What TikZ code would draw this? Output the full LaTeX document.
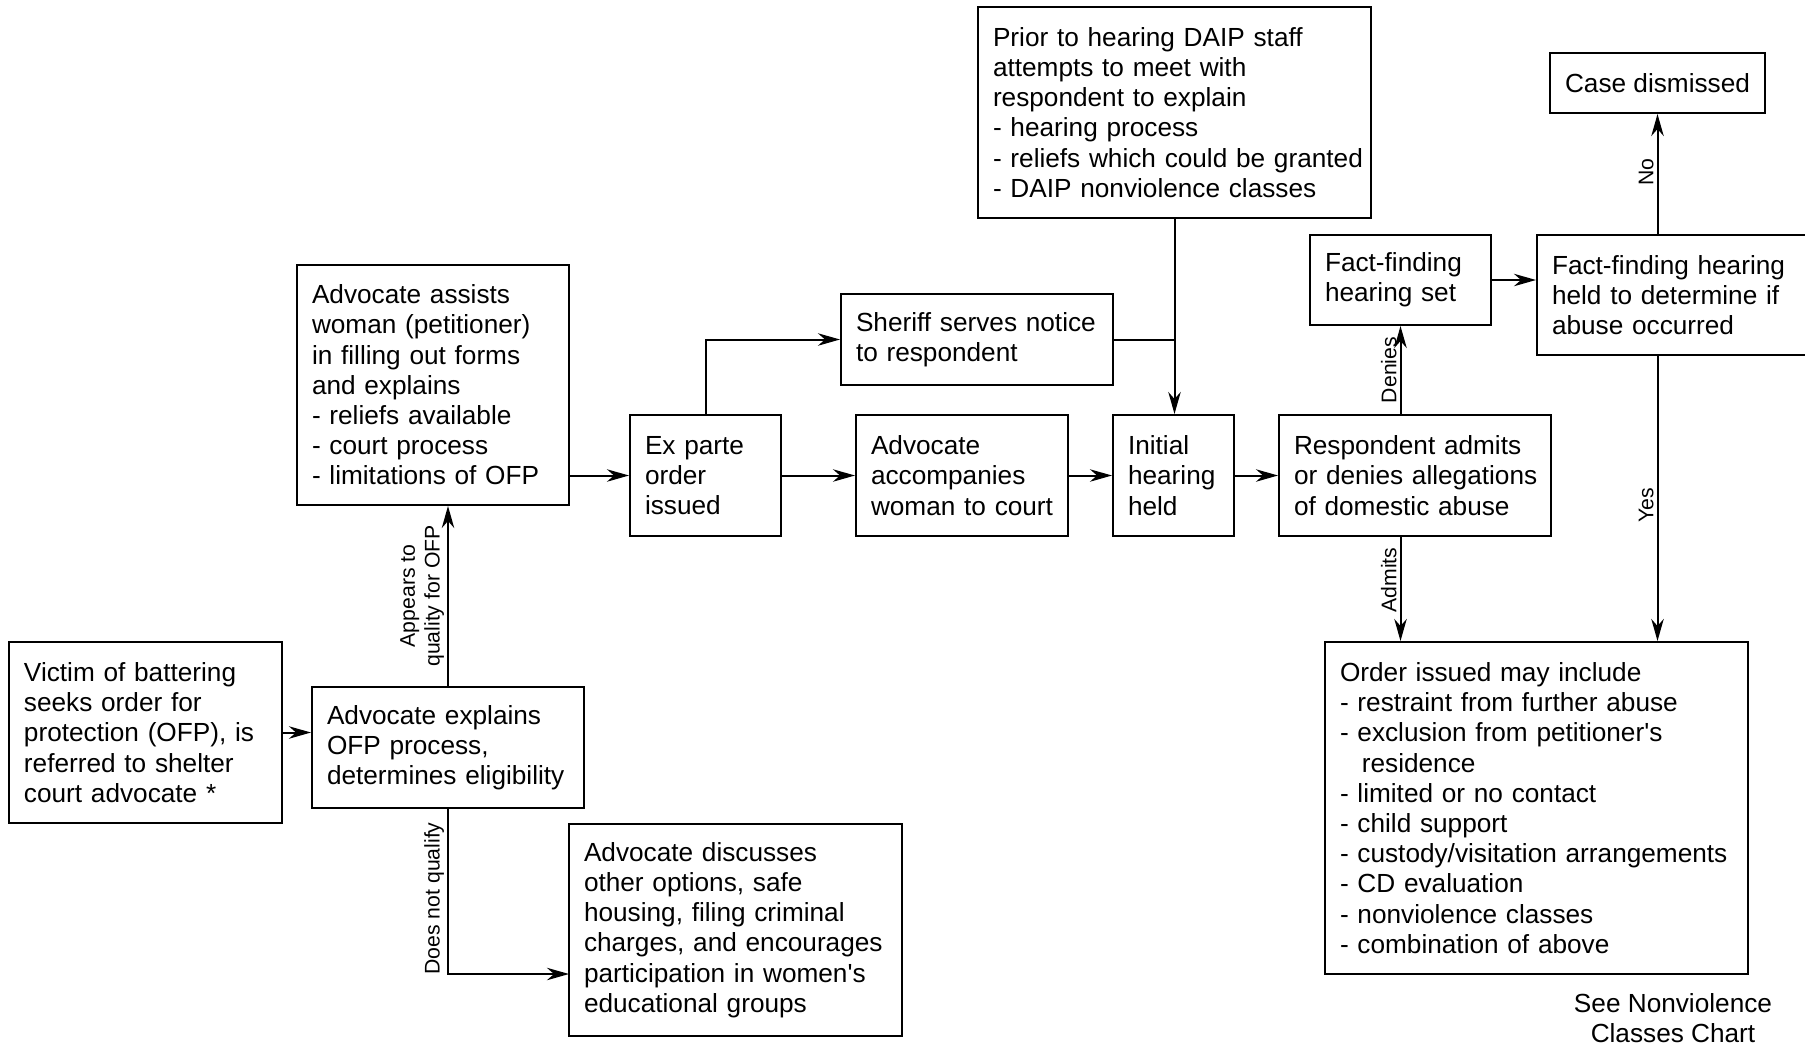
\documentclass[tikz,border=0pt]{standalone}
\usepackage{fontspec}
\setmainfont{Liberation Sans}
\usetikzlibrary{arrows.meta}
\begin{document}
\hyphenpenalty=10000
\exhyphenpenalty=10000
\begin{tikzpicture}[x=0.5pt,y=-0.5pt,
  box/.style={draw, line width=1pt, rectangle, inner xsep=7.5pt, inner ysep=0pt, align=left, font=\fontsize{13.1}{15.1}\selectfont},
  lbl/.style={font=\fontsize{10.6}{12.4}\selectfont, rotate=90, anchor=south, inner sep=1.5pt, align=center},
  arr/.style={line width=1pt, -{Stealth[length=11pt,width=6.2pt,inset=3.5pt]}},
  ln/.style={line width=1pt}]
\useasboundingbox (0,0) rectangle (1805,1045);

\node[box, minimum height=90.5pt, text width=121.5pt] (victim) at (145.5,732.5)
  {Victim of battering\\seeks order for\\protection~(OFP),~is\\referred to shelter\\court advocate *};
\node[box, minimum height=60.5pt, text width=121pt] (explains) at (448,747.5)
  {Advocate~explains\\OFP process,\\determines~eligibility};
\node[box, minimum height=120pt, text width=121pt] (assists) at (433,385)
  {Advocate assists\\woman~(petitioner)\\in filling out forms\\and explains\\- reliefs available\\- court process\\- limitations~of~OFP};
\node[box, minimum height=106pt, text width=151.5pt] (discusses) at (735.5,930)
  {Advocate discusses\\other options, safe\\housing,~filing~criminal\\charges,~and~encourages\\participation~in~women\textquotesingle s\\educational groups};
\node[box, minimum height=60.5pt, text width=60.5pt] (exparte) at (705.5,475.5)
  {Ex~parte\\order\\issued};
\node[box, minimum height=45.5pt, text width=121pt] (sheriff) at (977,339.5)
  {Sheriff~serves~notice\\to respondent};
\node[box, minimum height=60.5pt, text width=91pt] (accomp) at (962,475.5)
  {Advocate\\accompanies\\woman~to~court};
\node[box, minimum height=105.5pt, text width=181.5pt] (prior) at (1174.5,112.5)
  {Prior~to~hearing~DAIP~staff\\attempts to meet with\\respondent~to~explain\\- hearing process\\-~reliefs~which~could~be~granted\\-~DAIP~nonviolence~classes};
\node[box, minimum height=60.5pt, text width=45.5pt] (initial) at (1173.5,475.5)
  {Initial\\hearing\\held};
\node[box, minimum height=60.5pt, text width=121pt] (respond) at (1415,475.5)
  {Respondent~admits\\or~denies~allegations\\of~domestic~abuse};
\node[box, minimum height=45pt, text width=75.5pt] (ffset) at (1400.5,280)
  {Fact-finding\\hearing~set};
\node[box, minimum height=60pt, text width=134pt] (ffheld) at (1686,295)
  {Fact-finding~hearing\\held~to~determine~if\\abuse~occurred};
\node[box, minimum height=30pt, minimum width=105.5pt, align=center] (dismissed) at (1657.5,83)
  {Case~dismissed};
\node[box, minimum height=166pt, text width=196.5pt] (order) at (1536.5,808)
  {Order~issued~may~include\\-~restraint~from~further~abuse\\-~exclusion~from~petitioner\textquotesingle s\\\hspace*{0.834em}residence\\-~limited~or~no~contact\\-~child~support\\-~custody/visitation~arrangements\\-~CD~evaluation\\-~nonviolence~classes\\-~combination~of~above};
\node[font=\fontsize{13.1}{15.1}\selectfont, align=center, inner sep=0pt] (see) at (1673,1018)
  {See Nonviolence\\Classes Chart};

\coordinate (dq) at (569,974);

\draw[arr] (victim.east) -- (victim.east -| explains.west);
\draw[arr] (explains.north) -- (explains.north |- assists.south)
  node[lbl, pos=0.5] (lappears) {Appears to\\quality for OFP};
\draw[arr] (explains.south) |- (dq)
  node[lbl, pos=0.271] (ldoes) {Does not qualify};
\draw[arr] (assists.east |- exparte.west) -- (exparte.west);
\draw[arr] (exparte.north) |- (sheriff.west);
\draw[arr] (exparte.east) -- (accomp.west);
\draw[arr] (accomp.east) -- (initial.west);
\draw[ln] (sheriff.east) -- (sheriff.east -| prior.south);
\draw[arr] (prior.south) -- (prior.south |- initial.north);
\draw[arr] (initial.east) -- (respond.west);
\draw[arr] (ffset.south |- respond.north) -- (ffset.south)
  node[lbl, pos=0.5] (ldenies) {Denies};
\draw[arr] (ffset.south |- respond.south) -- (ffset.south |- order.north)
  node[lbl, pos=0.415] (ladmits) {Admits};
\draw[arr] (ffset.east) -- (ffset.east -| ffheld.west);
\draw[arr] (dismissed.south |- ffheld.north) -- (dismissed.south)
  node[lbl, pos=0.516] (lno) {No};
\draw[arr] (dismissed.south |- ffheld.south) -- (dismissed.south |- order.north)
  node[lbl, pos=0.523] (lyes) {Yes};
\end{tikzpicture}
\end{document}
